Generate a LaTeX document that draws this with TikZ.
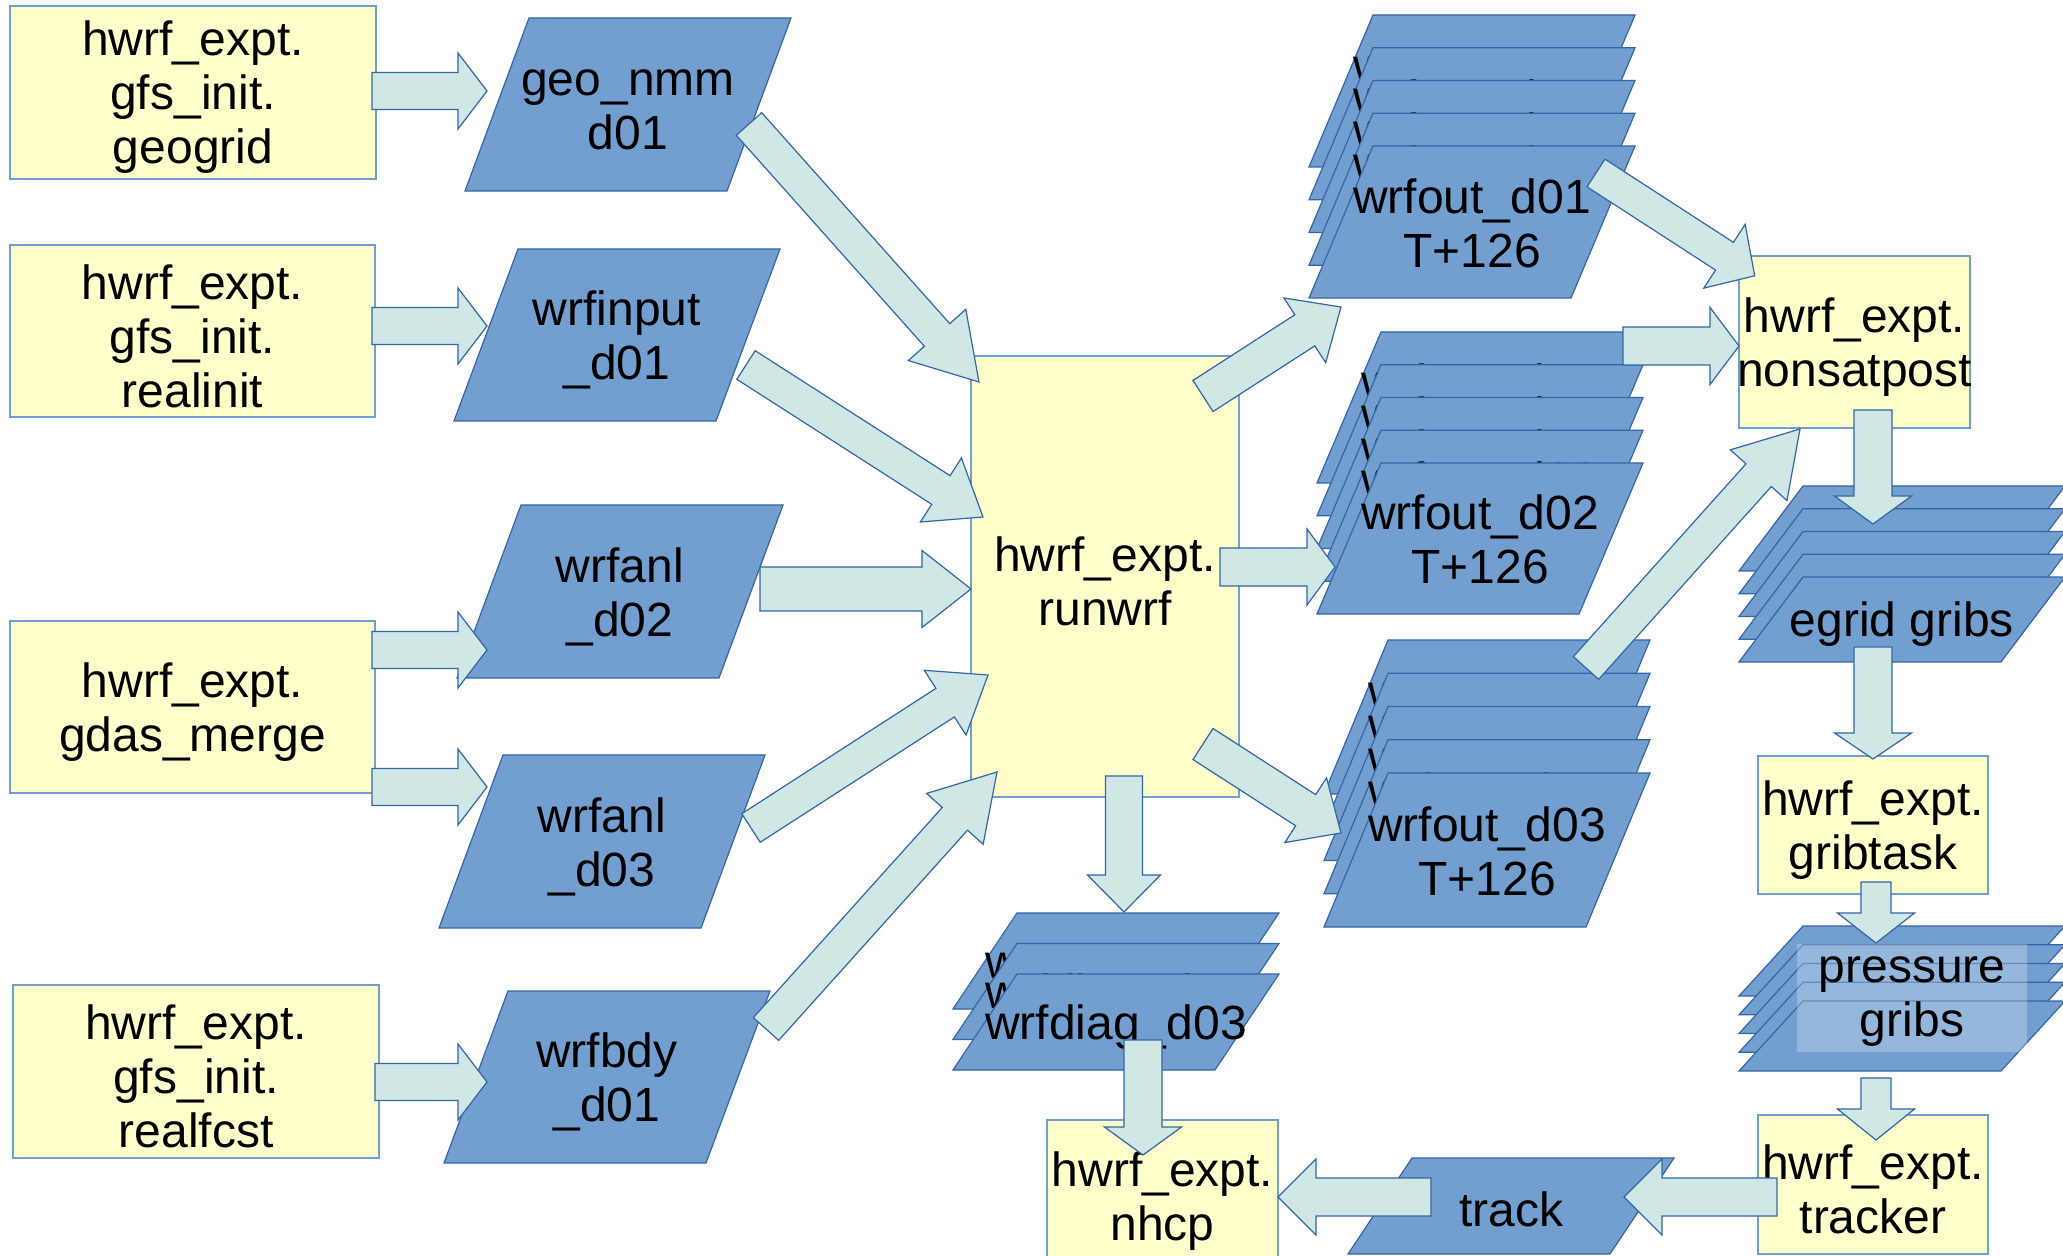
\documentclass[tikz,border=0pt]{standalone}
\usepackage{fontspec}
\setmainfont{Liberation Sans}
\usetikzlibrary{calc}

\definecolor{boxfill}{RGB}{255,255,204}
\definecolor{boxline}{RGB}{114,159,207}
\definecolor{datafill}{RGB}{114,159,207}
\definecolor{dataline}{RGB}{52,101,164}
\definecolor{arrowfill}{RGB}{207,231,229}

\tikzset{
  every node/.style={font=\fontsize{24}{27}\selectfont, align=center, inner sep=0pt},
  taskbox/.style={draw=boxline, fill=boxfill, line width=0.6pt},
  datashape/.style={draw=dataline, fill=datafill, line width=0.6pt, line join=miter},
  flow/.style={draw=dataline, fill=arrowfill, line width=0.6pt, line join=miter},
  labelbox/.style={fill=white, fill opacity=0.25},
}

% vertical offset of a label inside its data shape (px)
\newcommand\textdrop{5}

% task box: name, left, top, right, bottom, text
\newcommand\taskbox[6]{%
  \node[taskbox, minimum width={(#4-#2)*0.5pt}, minimum height={(#5-#3)*0.5pt}]
    (#1) at ({(#2+#4)/2},{(#3+#5)/2}) {};
  \node (#1-text) at ([yshift=-2.5pt]#1.center) {#6};}

% data parallelogram: name, top-left x, top y, height, text
\newcommand\datapara[5]{%
  \draw[datashape] ({#2},{#3}) -- ++(262,0) -- ++(-64,{#4}) -- ++(-262,0) -- cycle;
  \node (#1) at ({#2+99},{#3+#4/2+\textdrop}) {#5};}

% stack of data parallelograms:
% name, top-left x, first top, step, back layers, height, front text, back text
\newcommand\datastack[8]{%
  \foreach \i in {1,...,#5} {
    \pgfmathsetmacro\ltop{#3+(\i-1)*#4}
    \datapara{#1-\i}{#2}{\ltop}{#6}{#8}
  }
  \pgfmathsetmacro\ftop{#3+#5*#4}
  \datapara{#1}{#2}{\ftop}{#6}{#7}}

% block arrow: tail, tip, shaft width, head width, head length (all in px)
\newcommand\flowarrow[5]{%
  \path (#1); \pgfgetlastxy{\fax}{\fay}
  \path (#2); \pgfgetlastxy{\fbx}{\fby}
  \pgfmathsetmacro\fang{atan2((\fby)-(\fay),(\fbx)-(\fax))}
  \pgfmathsetmacro\flen{veclen((\fbx)-(\fax),(\fby)-(\fay))}
  \begin{scope}[shift={(#1)}, rotate=\fang, x=1pt, y=1pt]
    \draw[flow] (0,{#3/4}) -- ({\flen-#5/2},{#3/4}) -- ({\flen-#5/2},{#4/4})
      -- (\flen,0) -- ({\flen-#5/2},{-#4/4}) -- ({\flen-#5/2},{-#3/4})
      -- (0,{-#3/4}) -- cycle;
  \end{scope}}

\begin{document}
\begin{tikzpicture}[x=0.5pt, y=-0.5pt]
\useasboundingbox (0,0) rectangle (2063,1256);
\clip (0,0) rectangle (2063,1256);
\fill[white] (0,0) rectangle (2063,1256);

% tasks
\taskbox{geogrid}{10}{6}{376}{179}{hwrf\_expt.\\gfs\_init.\\geogrid}
\taskbox{realinit}{10}{245}{375}{417}{hwrf\_expt.\\gfs\_init.\\realinit}
\taskbox{merge}{10}{621}{375}{793}{hwrf\_expt.\\gdas\_merge}
\taskbox{realfcst}{13}{985}{379}{1158}{hwrf\_expt.\\gfs\_init.\\realfcst}
\taskbox{runwrf}{971}{356}{1239}{797}{hwrf\_expt.\\runwrf}
\taskbox{nonsatpost}{1739}{256}{1970}{428}{hwrf\_expt.\\nonsatpost}
\taskbox{gribtask}{1758}{756}{1988}{894}{hwrf\_expt.\\gribtask}
\taskbox{tracker}{1758}{1115}{1988}{1254}{hwrf\_expt.\\tracker}
\taskbox{nhcp}{1047}{1120}{1278}{1272}{hwrf\_expt.\\nhcp}

% input data
\datapara{geo}{529}{18}{173}{geo\_nmm\\d01}
\datapara{wrfinput}{518}{249}{172}{wrfinput\\\_d01}
\datapara{anltwo}{521}{505}{173}{wrfanl\\\_d02}
\datapara{anlthree}{503}{755}{173}{wrfanl\\\_d03}
\datapara{wrfbdy}{508}{991}{172}{wrfbdy\\\_d01}

% output data
\renewcommand\textdrop{1}
\datastack{outone}{1373}{15}{32.75}{4}{152}{wrfout\_d01\\T+126}{wrfout\_d01\\T+126}
\datastack{outtwo}{1381}{332}{32.75}{4}{151}{wrfout\_d02\\T+126}{wrfout\_d02\\T+126}
\datastack{outthree}{1388}{640}{33.25}{4}{154}{wrfout\_d03\\T+126}{wrfout\_d03\\T+126}
\renewcommand\textdrop{5}
\datastack{diag}{1017}{913}{30.5}{2}{96}{wrfdiag\_d03}{wrfdiag\_d03}
\datastack{egrid}{1803}{486}{22.75}{4}{85}{egrid gribs}{}
\datastack{pres}{1803}{926}{18.75}{4}{70}{}{}
\fill[labelbox] (1797,944) rectangle (2027,1052);
\node (prestext) at (1912,1002) {pressure\\gribs};
\renewcommand\textdrop{3}
\datapara{track}{1412}{1158}{96}{track}

% arrow end points
\coordinate (c1a) at (372,91);    \coordinate (c1b) at (487,91);
\coordinate (c2a) at (372,326);   \coordinate (c2b) at (487,326);
\coordinate (c3a) at (372,650);   \coordinate (c3b) at (487,650);
\coordinate (c4a) at (372,787);   \coordinate (c4b) at (487,787);
\coordinate (c5a) at (375,1082);  \coordinate (c5b) at (487,1082);
\coordinate (c6a) at (749,124);   \coordinate (c6b) at (979,382);
\coordinate (c7a) at (746,365);   \coordinate (c7b) at (983,517);
\coordinate (c8a) at (760,589);   \coordinate (c8b) at (971,589);
\coordinate (c9a) at (751,828);   \coordinate (c9b) at (988,675);
\coordinate (c10a) at (766,1029); \coordinate (c10b) at (997,772);
\coordinate (c11a) at (1203,396); \coordinate (c11b) at (1341,307);
\coordinate (c12a) at (1220,567); \coordinate (c12b) at (1335,567);
\coordinate (c13a) at (1203,744); \coordinate (c13b) at (1341,833);
\coordinate (c14a) at (1124,776); \coordinate (c14b) at (1124,912);
\coordinate (c15a) at (1596,173); \coordinate (c15b) at (1755,276);
\coordinate (c16a) at (1623,346); \coordinate (c16b) at (1739,346);
\coordinate (c17a) at (1586,668); \coordinate (c17b) at (1800,429);
\coordinate (c18a) at (1873,410); \coordinate (c18b) at (1873,524);
\coordinate (c19a) at (1873,647); \coordinate (c19b) at (1873,759);
\coordinate (c20a) at (1876,882); \coordinate (c20b) at (1876,943);
\coordinate (c21a) at (1876,1078);\coordinate (c21b) at (1876,1140);
\coordinate (c22a) at (1777,1197);\coordinate (c22b) at (1624,1197);
\coordinate (c23a) at (1431,1197);\coordinate (c23b) at (1278,1197);
\coordinate (c24a) at (1143,1040);\coordinate (c24b) at (1143,1155);

% flows
\flowarrow{c1a}{c1b}{37}{76}{29}
\flowarrow{c2a}{c2b}{37}{76}{29}
\flowarrow{c3a}{c3b}{37}{76}{29}
\flowarrow{c4a}{c4b}{37}{76}{29}
\flowarrow{c5a}{c5b}{37}{76}{29}
\flowarrow{c6a}{c6b}{34}{77}{63}
\flowarrow{c7a}{c7b}{34}{76}{50}
\flowarrow{c8a}{c8b}{44}{77}{49}
\flowarrow{c9a}{c9b}{34}{77}{51}
\flowarrow{c10a}{c10b}{34}{76}{63}
\flowarrow{c11a}{c11b}{37}{77}{43}
\flowarrow{c12a}{c12b}{38}{76}{28}
\flowarrow{c13a}{c13b}{37}{77}{42}
\flowarrow{c14a}{c14b}{37}{73}{37}
\flowarrow{c15a}{c15b}{33}{76}{36}
\flowarrow{c16a}{c16b}{38}{77}{29}
\flowarrow{c17a}{c17b}{34}{76}{62}
\flowarrow{c18a}{c18b}{38}{77}{28}
\flowarrow{c19a}{c19b}{38}{77}{26}
\flowarrow{c20a}{c20b}{30}{77}{30}
\flowarrow{c21a}{c21b}{30}{77}{31}
\flowarrow{c22a}{c22b}{38}{76}{38}
\flowarrow{c23a}{c23b}{38}{76}{38}
\flowarrow{c24a}{c24b}{38}{77}{28}
\end{tikzpicture}
\end{document}
